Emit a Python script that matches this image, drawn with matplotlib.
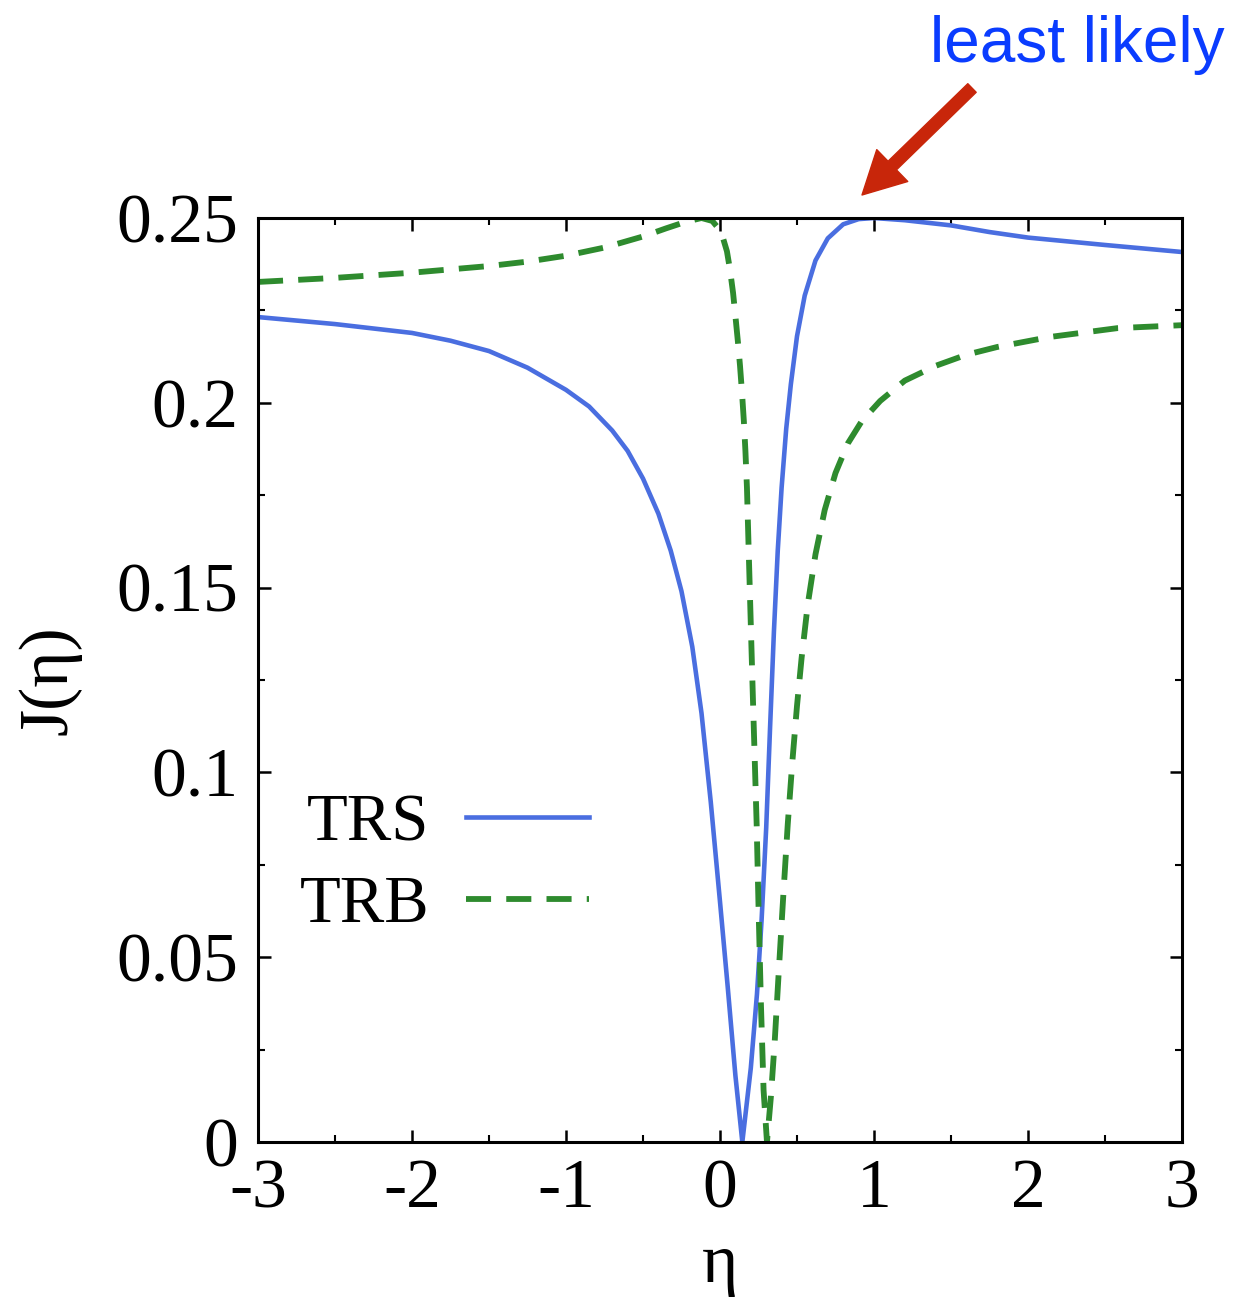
import matplotlib
matplotlib.use("Agg")
import matplotlib.pyplot as plt
from matplotlib.ticker import MultipleLocator, FixedLocator

plt.rcParams['font.family'] = ['Liberation Serif', 'DejaVu Serif']
plt.rcParams['axes.unicode_minus'] = False

# TRS (solid blue)
eta_trs = [-3.0, -2.5, -2.0, -1.75, -1.5, -1.25, -1.0, -0.85, -0.7, -0.6,
           -0.5, -0.4, -0.32, -0.25, -0.18, -0.12, -0.06, 0.0, 0.05, 0.1,
           0.145, 0.2, 0.24, 0.27, 0.3, 0.325, 0.35, 0.375, 0.4, 0.43,
           0.46, 0.5, 0.55, 0.62, 0.7, 0.8, 0.9, 1.0, 1.2, 1.5,
           1.75, 2.0, 2.5, 3.0]
j_trs = [0.2232, 0.2213, 0.2189, 0.2168, 0.2140, 0.2095, 0.2035, 0.1990, 0.1925, 0.1870,
         0.1795, 0.1700, 0.1600, 0.1490, 0.1340, 0.1160, 0.0920, 0.0650, 0.0420, 0.0180,
         0.0, 0.0200, 0.0400, 0.0600, 0.0850, 0.1120, 0.1380, 0.1600, 0.1770, 0.1930,
         0.2050, 0.2180, 0.2290, 0.2385, 0.2445, 0.2483, 0.2497, 0.2500, 0.2494, 0.2480,
         0.2462, 0.2447, 0.2427, 0.2408]

# TRB (dashed green)
eta_trb = [-3.0, -2.5, -2.0, -1.5, -1.25, -1.0, -0.75, -0.5, -0.35, -0.22,
           -0.12, -0.05, -0.01, 0.02, 0.045, 0.065, 0.085, 0.1, 0.117, 0.13,
           0.143, 0.155, 0.165, 0.175, 0.185, 0.2, 0.214, 0.227, 0.238, 0.25,
           0.266, 0.283, 0.305, 0.33, 0.355, 0.38, 0.41, 0.44, 0.47, 0.5,
           0.53, 0.57, 0.62, 0.68, 0.75, 0.83, 0.92, 1.04, 1.2, 1.4,
           1.6, 1.8, 2.14, 2.58, 3.0]
j_trb = [0.2327, 0.2338, 0.2352, 0.2370, 0.2382, 0.2398, 0.2420, 0.2450, 0.2472, 0.2490,
         0.2500, 0.2492, 0.2472, 0.2445, 0.2410, 0.2360, 0.2297, 0.2235, 0.2162, 0.2100,
         0.2027, 0.1950, 0.1870, 0.1770, 0.1620, 0.1400, 0.1196, 0.1015, 0.0860, 0.0640,
         0.0370, 0.0140, 0.0, 0.0120, 0.0270, 0.0450, 0.0660, 0.0860, 0.1030, 0.1180,
         0.1310, 0.1455, 0.1590, 0.1710, 0.1810, 0.1890, 0.1950, 0.2005, 0.2060, 0.2100,
         0.2130, 0.2151, 0.2178, 0.2202, 0.2210]

x_ticks = [-3, -2, -1, 0, 1, 2, 3]
y_ticks = [0, 0.05, 0.1, 0.15, 0.2, 0.25]
y_tick_labels = ['0', '0.05', '0.1', '0.15', '0.2', '0.25']

fig = plt.figure(figsize=(12.36, 13.01), dpi=100)
ax = fig.add_axes([258/1236, 1 - 1142/1301, 924/1236, 924/1301])

ax.plot(eta_trs, j_trs, color='#4a6ee0', lw=3.3, label='TRS')
ax.plot(eta_trb, j_trb, color='#2e8b2e', lw=4.2, dashes=(4.3, 2.6), label='TRB')

ax.set_xlim(-3, 3)
ax.set_ylim(0, 0.25)
ax.xaxis.set_major_locator(FixedLocator(x_ticks))
ax.set_xticklabels([str(t) for t in x_ticks])
ax.xaxis.set_minor_locator(MultipleLocator(0.5))
ax.yaxis.set_major_locator(FixedLocator(y_ticks))
ax.set_yticklabels(y_tick_labels)
ax.yaxis.set_minor_locator(MultipleLocator(0.025))

ax.tick_params(which='both', direction='in', top=True, right=True, labelsize=50)
ax.tick_params(which='major', length=9, width=1.8)
ax.tick_params(which='minor', length=5, width=1.5)
ax.tick_params(axis='y', pad=14)
ax.tick_params(axis='x', pad=12)
for s in ax.spines.values():
    s.set_linewidth(2.2)

ax.set_xlabel('η', fontsize=50, labelpad=8)
ax.set_ylabel('J(η)', fontsize=50, labelpad=25)

ax.legend(loc='center left', bbox_to_anchor=(0.045, 0.300), frameon=False,
          markerfirst=False, fontsize=48, handlelength=1.85, handletextpad=0.55,
          labelspacing=0.32, borderpad=0, borderaxespad=0)

fig.text(1225/1236, 1 - 62/1301, 'least likely', ha='right', va='baseline',
         fontsize=46, color='#0a3cff', family='Liberation Sans')
ax.annotate('', xy=(862/1236, 1 - 195/1301), xycoords='figure fraction',
            xytext=(972/1236, 1 - 88/1301), textcoords='figure fraction',
            arrowprops=dict(arrowstyle='simple,head_length=0.95,head_width=1.0,tail_width=0.27',
                            color='#c8260a', mutation_scale=32, shrinkA=0, shrinkB=0))

fig.savefig('out.png', dpi=100)
